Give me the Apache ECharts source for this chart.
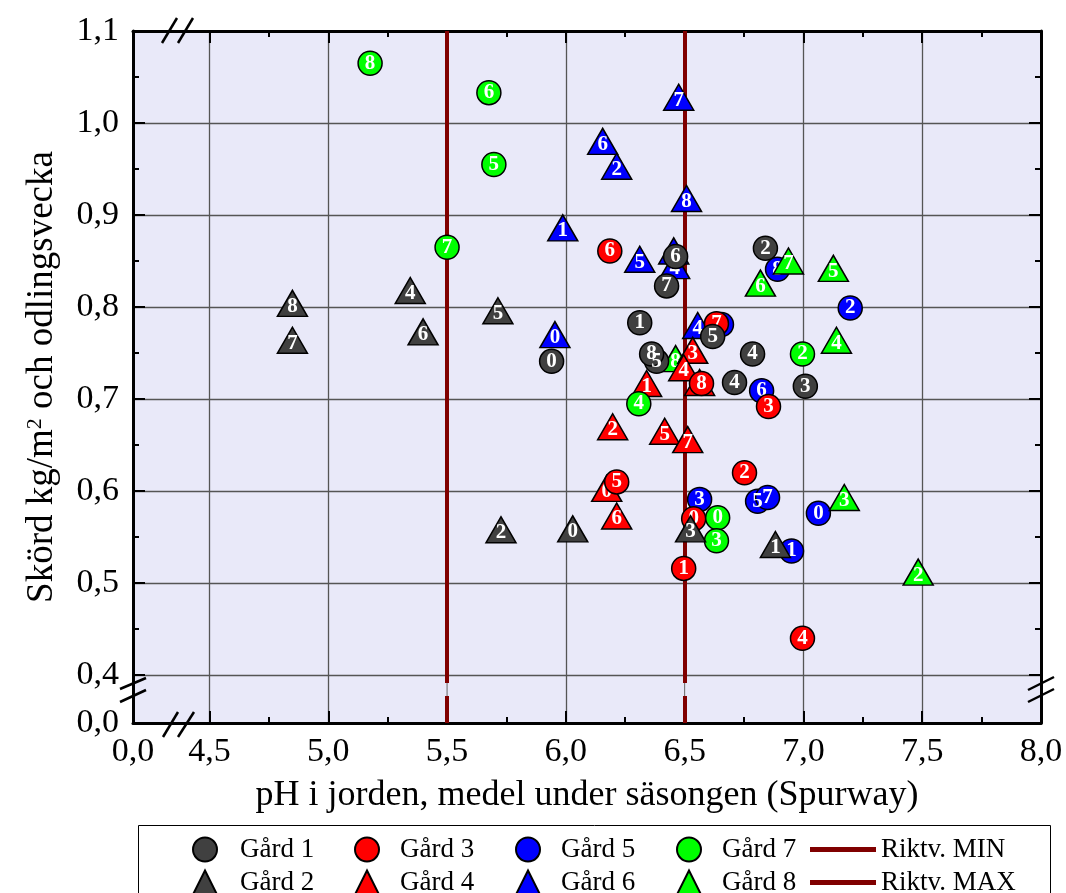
<!DOCTYPE html>
<html>
<head>
<meta charset="utf-8">
<script src="https://cdn.jsdelivr.net/npm/echarts@6/dist/echarts.min.js"></script>
<style>
html, body { margin: 0; padding: 0; background: #fff; }
#container { width: 1066px; height: 893px; }
</style>
</head>
<body>
<div id="container"></div>
<script>
// each point: [pH, skörd kg/m2 och vecka, veckonummer]
var gard1 = [[5.94,0.741,'0'],[6.311,0.783,'1'],[6.84,0.864,'2'],[7.008,0.714,'3'],[6.786,0.749,'4'],[6.71,0.718,'4'],
             [6.618,0.768,'5'],[6.382,0.741,'5'],[6.462,0.855,'6'],[6.424,0.823,'7'],[6.361,0.749,'8']];
var gard2 = [[4.849,0.804,'8'],[4.849,0.764,'7'],[5.345,0.818,'4'],[5.399,0.773,'6'],[5.714,0.796,'5'],[5.727,0.558,'2'],
             [6.029,0.559,'0'],[6.525,0.559,'3'],[6.882,0.542,'1']];
var gard3 = [[6.185,0.861,'6'],[6.571,0.717,'8'],[6.853,0.692,'3'],[6.752,0.620,'2'],[6.214,0.610,'5'],[6.538,0.570,'0'],
             [6.496,0.516,'1'],[6.996,0.440,'4'],[6.634,0.782,'7']];
var gard4 = [[6.340,0.717,'1'],[6.197,0.670,'2'],[6.416,0.665,'5'],[6.513,0.656,'7'],[6.534,0.753,'3'],[6.496,0.734,'4'],
             [6.563,0.718,'8'],[6.172,0.603,'0'],[6.214,0.573,'6']];
var gard5 = [[7.197,0.799,'2'],[6.891,0.841,'8'],[6.824,0.709,'6'],[6.563,0.591,'3'],[6.807,0.589,'5'],[6.849,0.593,'7'],
             [7.063,0.576,'0'],[6.950,0.535,'1'],[6.655,0.781,'4']];
var gard6 = [[6.475,1.028,'7'],[6.155,0.980,'6'],[6.214,0.953,'2'],[6.508,0.918,'8'],[5.987,0.886,'1'],[6.311,0.852,'5'],
             [6.454,0.861,'3'],[6.458,0.845,'4'],[5.954,0.770,'0'],[6.555,0.780,'4']];
var gard7 = [[5.176,1.065,'8'],[5.676,1.033,'6'],[5.697,0.955,'5'],[5.500,0.865,'7'],[6.307,0.695,'4'],[6.996,0.749,'2'],
             [6.639,0.571,'0'],[6.634,0.546,'3']];
var gard8 = [[6.937,0.850,'7'],[6.819,0.826,'6'],[7.126,0.842,'5'],[7.139,0.764,'4'],[7.172,0.593,'3'],[7.483,0.512,'2'],
             [6.462,0.744,'8']];
var riktvMin = 5.5;
var riktvMax = 6.5;

// axes (broken axes: the lowest value is shown as 0,0)
var xMin = 4.178, xMax = 8.0;
var yMin = 0.348, yMax = 1.1;
var xMajor = [4.5, 5.0, 5.5, 6.0, 6.5, 7.0, 7.5, 8.0];
var xMinor = [4.75, 5.25, 5.75, 6.25, 6.75, 7.25, 7.75];
var xLabels = [xMin, 4.5, 5.0, 5.5, 6.0, 6.5, 7.0, 7.5, 8.0];
var yMajor = [0.4, 0.5, 0.6, 0.7, 0.8, 0.9, 1.0, 1.1];
var yMinor = [0.45, 0.55, 0.65, 0.75, 0.85, 0.95, 1.05];
var yLabels = [yMin, 0.4, 0.5, 0.6, 0.7, 0.8, 0.9, 1.0, 1.1];

var FONT = 'Liberation Serif';
var BG = '#e9e9f9';

var dom = document.getElementById('container');
var myChart = echarts.init(dom);

function fmt(v, low) {
    if (v < low) return '0,0';
    return v.toFixed(1).replace('.', ',');
}

function axis(dim, pos, ticks, len, line) {
    return {
        type: 'value',
        position: pos,
        min: dim === 'x' ? xMin : yMin,
        max: dim === 'x' ? xMax : yMax,
        axisLine: {show: line, onZero: false, lineStyle: {color: '#000', width: 3}},
        axisTick: {show: true, inside: true, length: len, customValues: ticks,
                   lineStyle: {color: '#000', width: 2}},
        axisLabel: {show: false},
        splitLine: {show: false}
    };
}

var xAxes = [
    axis('x', 'bottom', xMajor, 12, true),
    axis('x', 'bottom', xMinor, 6, false),
    axis('x', 'top', xMajor, 12, true),
    axis('x', 'top', xMinor, 6, false)
];
xAxes[0].axisLabel = {
    show: true, customValues: xLabels, margin: 12, showMinLabel: true, showMaxLabel: true,
    fontFamily: FONT, fontSize: 34, color: '#000',
    formatter: function (v) { return fmt(v, 4.4); }
};
xAxes[0].splitLine = {show: true, lineStyle: {color: '#555', width: 1.3}};
xAxes[0].name = 'pH i jorden, medel under säsongen (Spurway)';
xAxes[0].nameLocation = 'middle';
xAxes[0].nameGap = 55;
xAxes[0].nameTextStyle = {fontFamily: FONT, fontSize: 36, color: '#000'};

var yAxes = [
    axis('y', 'left', yMajor, 12, true),
    axis('y', 'left', yMinor, 6, false),
    axis('y', 'right', yMajor, 12, true),
    axis('y', 'right', yMinor, 6, false)
];
yAxes[0].axisLabel = {
    show: true, customValues: yLabels, margin: 14, showMinLabel: true, showMaxLabel: true,
    fontFamily: FONT, fontSize: 34, color: '#000',
    formatter: function (v) { return fmt(v, 0.38); }
};
yAxes[0].splitLine = {show: true, lineStyle: {color: '#555', width: 1.3}};
yAxes[0].name = 'Skörd kg/m{sup|2} och odlingsvecka';
yAxes[0].nameLocation = 'middle';
yAxes[0].nameGap = 72;
yAxes[0].nameTextStyle = {
    fontFamily: FONT, fontSize: 37, color: '#000',
    rich: {sup: {fontFamily: FONT, fontSize: 22, color: '#000', verticalAlign: 'bottom', padding: [0, 0, 15, 0]}}
};

function farm(name, data, symbol, color, z) {
    var tri = symbol === 'triangle';
    return {
        name: name,
        type: 'scatter',
        data: data,
        symbol: symbol,
        symbolSize: tri ? [30, 26] : 24,
        z: z,
        itemStyle: {color: color, borderColor: '#000', borderWidth: 1.5, opacity: 1},
        label: {
            show: true, position: 'inside', offset: tri ? [0, 3] : [0, 0],
            formatter: function (p) { return String(p.value[2]); },
            color: '#fff', fontFamily: FONT, fontWeight: 'bold', fontSize: 21
        },
        emphasis: {disabled: true}
    };
}

function riktv(name, value) {
    return {
        name: name,
        type: 'line',
        data: [],
        z: 2,
        itemStyle: {color: '#800000'},
        lineStyle: {color: '#800000', width: 4},
        markLine: {
            silent: true, symbol: ['none', 'none'], label: {show: false},
            lineStyle: {color: '#800000', width: 4, type: 'solid'},
            emphasis: {disabled: true},
            data: [{xAxis: value}]
        }
    };
}

function legendCol(left, items, icon, w, h, pad) {
    return {
        orient: 'vertical', left: left, top: 833, height: 150, padding: 0, itemGap: 0,
        itemWidth: w, itemHeight: h, selectedMode: false, symbolKeepAspect: true,
        data: items.map(function (n) { return icon ? {name: n, icon: icon} : n; }),
        textStyle: {fontFamily: FONT, fontSize: 27, color: '#000', lineHeight: 33, padding: [0, 0, 0, pad]}
    };
}

// axis break marks and the legend frame
function slash(x1, y1, x2, y2) {
    return {type: 'line', z: 100, shape: {x1: x1, y1: y1, x2: x2, y2: y2},
            style: {stroke: '#000', lineWidth: 2.5}};
}
var baseGraphic = [
    slash(162, 43, 177, 18), slash(178, 43, 193, 18),
    slash(163, 737, 178, 712), slash(178, 737, 194, 712),
    slash(120, 689, 146, 678), slash(120, 702, 146, 690),
    slash(1028, 690, 1054, 677), slash(1028, 702, 1054, 689),
    {type: 'rect', z: 0, shape: {x: 138.5, y: 825.5, width: 912, height: 80},
     style: {fill: 'none', stroke: '#000', lineWidth: 1}}
];

option = {
    animation: false,
    backgroundColor: '#fff',
    grid: {left: 133, right: 25, top: 31, bottom: 170, show: true, backgroundColor: BG, borderWidth: 0},
    xAxis: xAxes,
    yAxis: yAxes,
    legend: [
        legendCol(192, ['Gård 1', 'Gård 2'], null, 24, 24, 18),
        legendCol(354, ['Gård 3', 'Gård 4'], null, 24, 24, 16),
        legendCol(515, ['Gård 5', 'Gård 6'], null, 24, 24, 16),
        legendCol(676, ['Gård 7', 'Gård 8'], null, 24, 24, 16),
        legendCol(810, ['Riktv. MIN', 'Riktv. MAX'], 'rect', 66, 5, 0)
    ],
    graphic: baseGraphic,
    series: [
        riktv('Riktv. MIN', riktvMin),
        riktv('Riktv. MAX', riktvMax),
        farm('Gård 1', gard1, 'circle', '#404040', 18),
        farm('Gård 2', gard2, 'triangle', '#404040', 17),
        farm('Gård 3', gard3, 'circle', '#ff0000', 15),
        farm('Gård 4', gard4, 'triangle', '#ff0000', 14),
        farm('Gård 5', gard5, 'circle', '#0000ff', 12),
        farm('Gård 6', gard6, 'triangle', '#0000ff', 11),
        farm('Gård 7', gard7, 'circle', '#00ff00', 16),
        farm('Gård 8', gard8, 'triangle', '#00ff00', 13)
    ]
};

if (option && typeof option === 'object') {
    myChart.setOption(option, true);
}

// break the guide lines where the y axis is broken
var gaps = [];
[riktvMin, riktvMax].forEach(function (v) {
    var px = myChart.convertToPixel({xAxisIndex: 0}, v);
    gaps.push({type: 'rect', z: 50, shape: {x: px - 3, y: 683, width: 6, height: 13}, style: {fill: BG}});
    gaps.push({type: 'line', z: 51, shape: {x1: px, y1: 683, x2: px, y2: 696}, style: {stroke: '#666', lineWidth: 1}});
});
myChart.setOption({graphic: baseGraphic.concat(gaps)});
</script>
</body>
</html>
